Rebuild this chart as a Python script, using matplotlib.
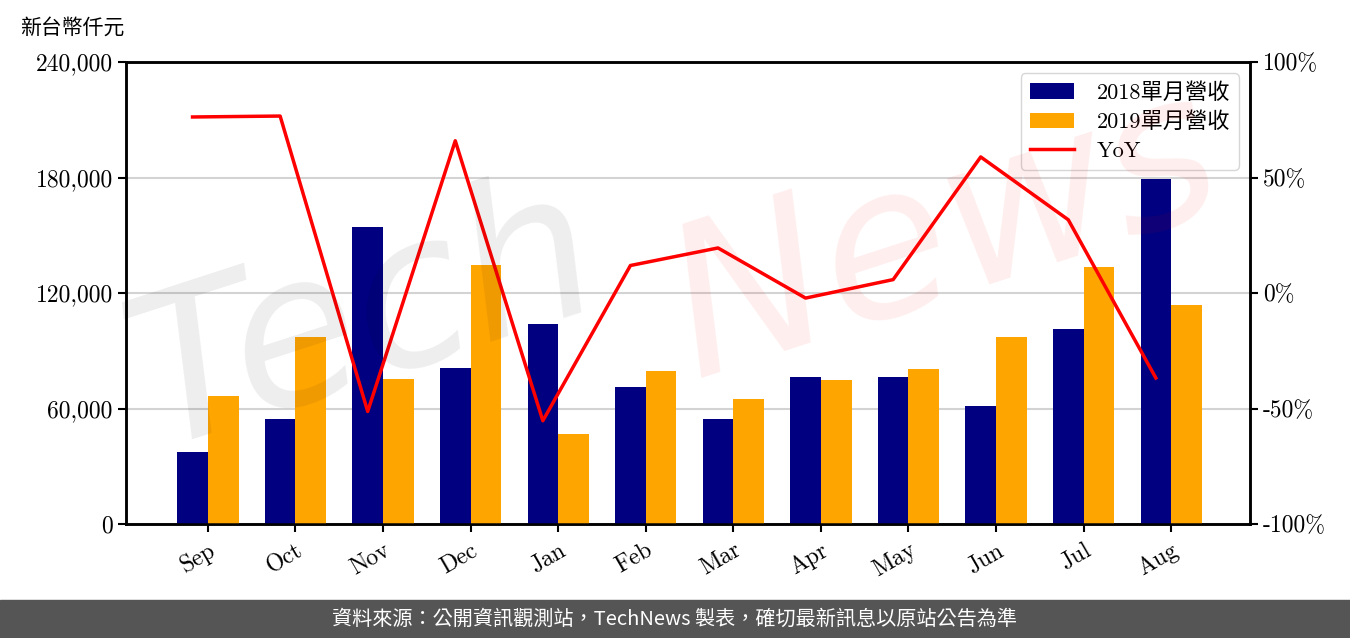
import matplotlib
matplotlib.use("Agg")
import matplotlib.pyplot as plt
import numpy as np
from matplotlib.ticker import FuncFormatter

months = ["Sep", "Oct", "Nov", "Dec", "Jan", "Feb", "Mar", "Apr", "May", "Jun", "Jul", "Aug"]
rev_2018 = [37400, 54500, 154300, 81000, 103900, 71200, 54500, 76400, 76400, 61300, 101300, 179200]
rev_2019 = [66500, 97100, 75300, 134500, 46800, 79500, 64900, 74800, 80500, 97100, 133500, 113800]
yoy = [76.2, 76.6, -51.3, 65.9, -55.3, 11.9, 19.5, -2.2, 5.8, 58.9, 31.7, -36.8]

label_2018 = "2018單月營收"
label_2019 = "2019單月營收"
label_yoy = "YoY"
ylabel = "新台幣仟元"
footer = "資料來源：公開資訊觀測站，TechNews 製表，確切最新訊息以原站公告為準"

SERIF = ["cmr10", "Noto Sans CJK TC", "DejaVu Serif"]
plt.rcParams["font.family"] = SERIF
plt.rcParams["axes.formatter.use_mathtext"] = True

fig = plt.figure(figsize=(13.5, 6.38), dpi=100)
ax = fig.add_axes([126/1350, 114/638, 1124/1350, 462/638])
ax2 = ax.twinx()

x = np.arange(len(months))
w = 0.35
ax.bar(x - w/2, rev_2018, w, color="#000080", label=label_2018, zorder=3)
ax.bar(x + w/2, rev_2019, w, color="#FFA500", label=label_2019, zorder=3)
ax2.plot(x - w/2, yoy, color="#FF0000", lw=2.5, label=label_yoy)

ax.set_ylim(0, 240000)
ax.set_yticks([0, 60000, 120000, 180000, 240000])
ax.yaxis.set_major_formatter(FuncFormatter(lambda v, p: f"{int(v):,}"))
ax.grid(axis="y", color="#d3d3d3", lw=1.5, zorder=0)
ax.set_axisbelow(True)
ax.set_xlim(-0.935, 11.9)
ax.set_xticks(x)
ax.set_xticklabels(months, rotation=30, ha="right", rotation_mode="anchor")

ax2.set_ylim(-100, 100)
ax2.set_yticks([-100, -50, 0, 50, 100])
ax2.yaxis.set_major_formatter(FuncFormatter(lambda v, p: f"{int(v)}%"))

for a in (ax, ax2):
    for s in a.spines.values():
        s.set_linewidth(1.8)
        s.set_color("black")
    a.tick_params(axis="both", labelsize=17, width=1.5, length=6)
ax.tick_params(axis="x", pad=5)

fig.text(20/1350, 1 - 28/638, ylabel, fontsize=15, va="center", ha="left",
         family=["Noto Sans CJK TC"])

h1, l1 = ax.get_legend_handles_labels()
h2, l2 = ax2.get_legend_handles_labels()
leg = ax2.legend(h1 + h2, l1 + l2, loc="upper right", framealpha=0.8,
                 edgecolor="#cccccc", handlelength=2.0, handletextpad=1.0,
                 prop={"family": SERIF, "size": 16}, borderaxespad=0.5,
                 labelspacing=0.4)

# watermark
fig.text(0.27, 0.50, "Tech", fontsize=150, color="black", alpha=0.07, rotation=18,
         ha="center", va="center", family=["DejaVu Sans"], style="italic", zorder=10)
fig.text(0.70, 0.63, "News", fontsize=150, color="red", alpha=0.07, rotation=18,
         ha="center", va="center", family=["DejaVu Sans"], style="italic", zorder=10)

# footer
fig.patches.append(plt.Rectangle((0, 0), 1, 38/638, transform=fig.transFigure,
                                 color="#555555", zorder=0))
fig.text(0.5, 19/638, footer, color="white", fontsize=14.5, ha="center", va="center",
         family=["Noto Sans CJK TC"])

fig.savefig("out.png", dpi=100)
